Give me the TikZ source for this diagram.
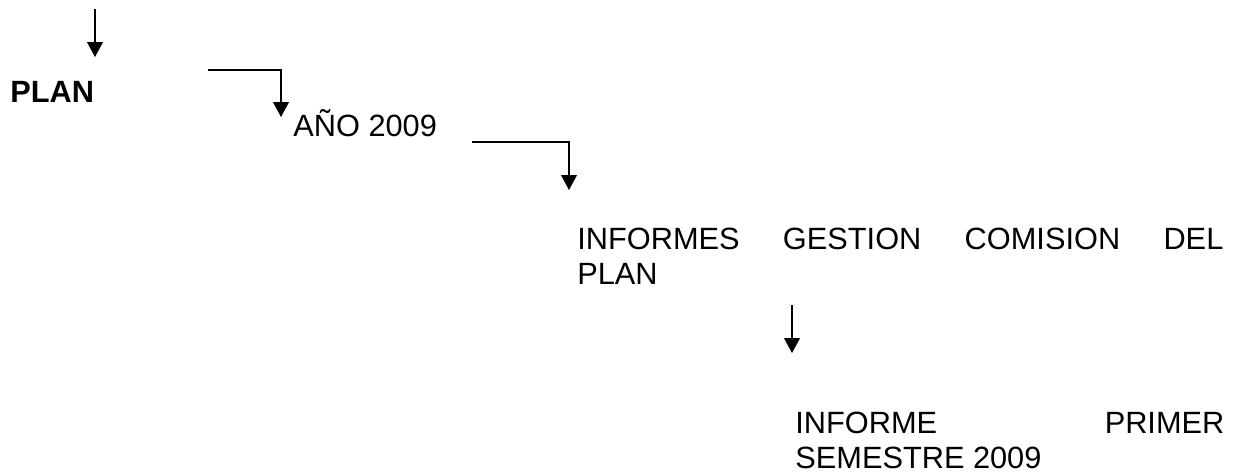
\documentclass[tikz,border=0pt]{standalone}
\usepackage{fontspec}
\setmainfont{Liberation Sans}
\tolerance=10000
\hyphenpenalty=10000

\begin{document}
\begin{tikzpicture}[
		textnode/.style={
		% The shape:
		inner sep=0pt,
		% The anchor:
		anchor=base west,
		% Font
		font=\fontsize{17.5}{20}\selectfont
    		},
		arrowline/.style={
		% The tip:
		-{Triangle[length=8.5pt,width=9pt]},
		% The line:
		line width=0.7pt
    		}
	]
	% Triangle arrow tips
	\usetikzlibrary{arrows.meta}

	\useasboundingbox (0,0) rectangle (24.8,9.46);

	\node (P)[textnode, font=\fontsize{17.5}{20}\selectfont\bfseries] at (0.20,7.42) {PLAN};
	\node (Y)[textnode] at (5.86,6.72) {AÑO 2009};
	\node (I)[textnode, text width=12.92cm, align=justify] at (11.54,4.48) {INFORMES GESTION COMISION DEL\linebreak PLAN};
	\node (S)[textnode, text width=8.58cm, align=justify] at (15.90,0.80) {INFORME PRIMER\linebreak SEMESTRE 2009};

	\coordinate (E1) at (1.90,9.28);
	\coordinate (E2) at (1.90,8.32);
	\coordinate (E3) at (4.16,8.06);
	\coordinate (E4) at (5.62,7.12);
	\coordinate (E5) at (9.44,6.62);
	\coordinate (E6) at (11.38,5.66);
	\coordinate (E7) at (15.84,3.36);
	\coordinate (E8) at (15.84,2.40);

  	\draw [arrowline] (E1) -- (E2);
  	\draw [arrowline] (E3) -| (E4);
  	\draw [arrowline] (E5) -| (E6);
  	\draw [arrowline] (E7) -- (E8);
\end{tikzpicture}
\end{document}
